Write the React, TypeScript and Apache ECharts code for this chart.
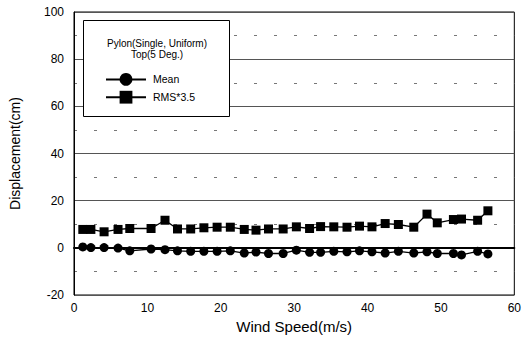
import React, { useEffect, useRef } from "react";
import * as echarts from "echarts";

const windSpeed = [1.2, 2.3, 4.1, 6.0, 7.6, 10.5, 12.4, 14.1, 15.9, 17.7, 19.5, 21.3, 23.2, 24.8, 26.5, 28.5, 30.3, 32.1, 33.6, 35.4, 37.2, 38.9, 40.6, 42.4, 44.2, 46.3, 48.1, 49.5, 51.7, 52.8, 55.0, 56.4];
const meanValues = [0.4, 0.1, 0.1, -0.1, -1.25, -0.5, -0.8, -1.25, -1.5, -1.5, -1.5, -1.25, -2.2, -1.8, -2.4, -2.4, -1.0, -1.9, -1.9, -1.5, -1.7, -1.25, -1.7, -2.2, -1.5, -2.2, -1.7, -2.4, -2.4, -3.0, -1.5, -2.6];
const rmsValues = [7.8, 7.8, 6.8, 7.8, 8.2, 8.2, 11.7, 8.0, 8.0, 8.5, 8.75, 8.75, 7.8, 7.5, 8.0, 8.0, 8.9, 8.2, 9.0, 8.9, 8.75, 9.2, 8.9, 10.3, 9.9, 8.75, 14.3, 10.6, 12.0, 12.2, 11.7, 15.7];
const seriesNames = ["Mean", "RMS*3.5"];
const legendTitle = ["Pylon(Single, Uniform)", "Top(5 Deg.)"];

const FONT = "Liberation Sans, Arial, sans-serif";

export default function App() {
  const ref = useRef<HTMLDivElement>(null);
  useEffect(() => {
    document.body.style.margin = "0";
    const chart = echarts.init(ref.current!, null, { renderer: "svg" });
    const pair = (xs: number[], ys: number[]) => xs.map((x, i) => [x, ys[i]]);
    chart.setOption({
      animation: false,
      backgroundColor: "#fff",
      textStyle: { fontFamily: FONT, color: "#000" },
      grid: { left: 72, right: 8, top: 12, bottom: 39, show: true, borderColor: "#000", borderWidth: 1 },
      xAxis: {
        type: "value",
        min: 0,
        max: 60,
        interval: 10,
        name: "Wind Speed(m/s)",
        nameLocation: "middle",
        nameGap: 24,
        nameTextStyle: { fontSize: 15, color: "#000", fontFamily: FONT },
        axisLine: { lineStyle: { color: "#000", width: 2 } },
        axisTick: { show: false },
        splitLine: { show: false },
        axisLabel: { fontSize: 12, color: "#000", margin: 7, fontFamily: FONT },
      },
      yAxis: {
        type: "value",
        min: -20,
        max: 100,
        interval: 20,
        name: "Displacement(cm)",
        nameLocation: "middle",
        nameGap: 52,
        nameTextStyle: { fontSize: 14, color: "#000", fontFamily: FONT },
        axisLine: { show: true, lineStyle: { color: "#000", width: 1 } },
        axisTick: { show: false },
        axisLabel: { fontSize: 12, color: "#000", margin: 10, fontFamily: FONT },
        splitLine: { show: true, lineStyle: { color: "#555", width: 1 } },
        minorTick: { show: false, splitNumber: 2 },
        minorSplitLine: { show: true, lineStyle: { color: "#777", width: 1, type: [3, 17] } },
      },
      legend: {
        orient: "vertical",
        left: 100,
        top: 68,
        itemWidth: 40,
        itemHeight: 16,
        itemGap: 5,
        z: 12,
        data: seriesNames,
        textStyle: { fontSize: 10.5, color: "#000", fontFamily: FONT, padding: [0, 0, 0, 2] },
      },
      graphic: [
        {
          type: "rect",
          shape: { x: 83.5, y: 20.5, width: 146, height: 96 },
          style: { fill: "#fff", stroke: "#000", lineWidth: 1 },
          z: 10,
        },
        {
          type: "text",
          x: 157,
          y: 43,
          style: { text: legendTitle[0], fontSize: 10, fontFamily: FONT, fill: "#000", align: "center", verticalAlign: "middle" },
          z: 11,
        },
        {
          type: "text",
          x: 157,
          y: 54,
          style: { text: legendTitle[1], fontSize: 10, fontFamily: FONT, fill: "#000", align: "center", verticalAlign: "middle" },
          z: 11,
        },
      ],
      series: [
        {
          name: seriesNames[0],
          type: "line",
          data: pair(windSpeed, meanValues),
          symbol: "circle",
          symbolSize: 9,
          lineStyle: { color: "#000", width: 1.3 },
          itemStyle: { color: "#000" },
          z: 3,
        },
        {
          name: seriesNames[1],
          type: "line",
          data: pair(windSpeed, rmsValues),
          symbol: "rect",
          symbolSize: 9,
          lineStyle: { color: "#000", width: 1.3 },
          itemStyle: { color: "#000" },
          z: 3,
        },
      ],
    });
    return () => chart.dispose();
  }, []);
  return <div ref={ref} style={{ width: 524, height: 339 }} />;
}
